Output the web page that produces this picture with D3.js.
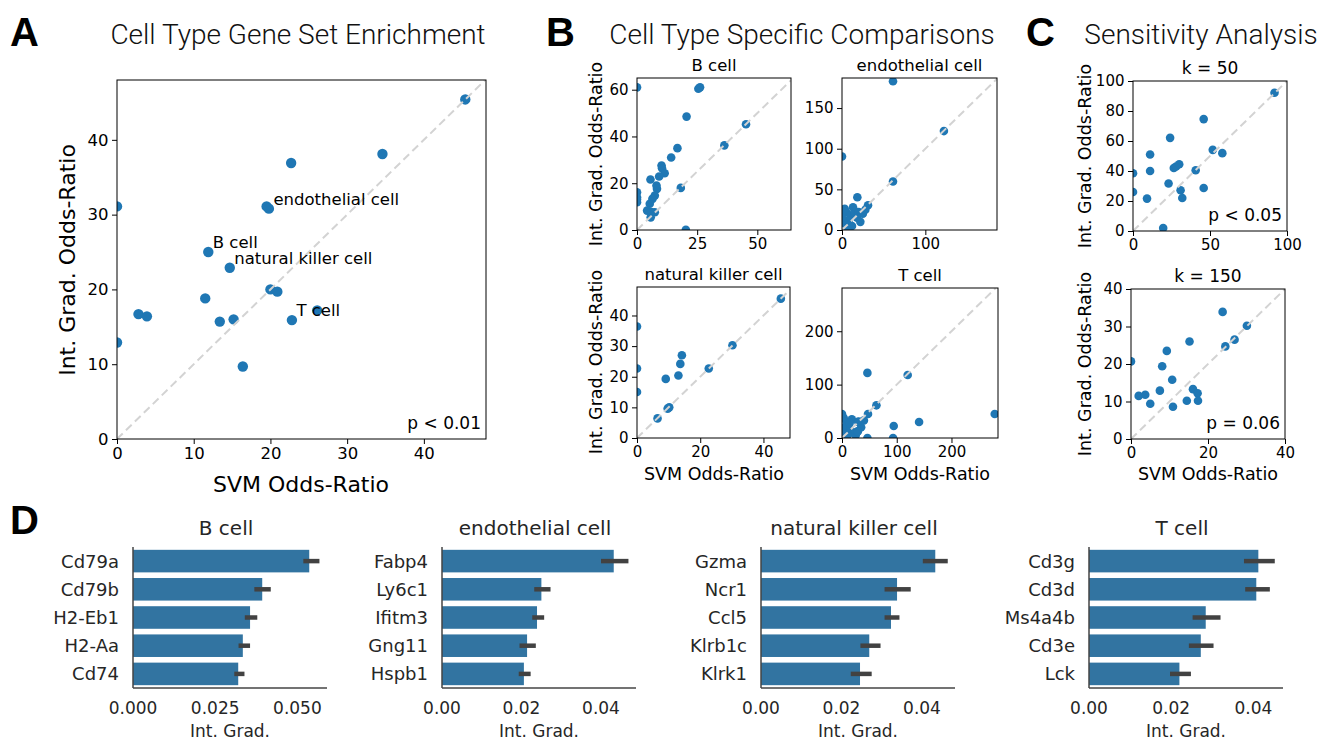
<!DOCTYPE html>
<html>
<head>
<meta charset="utf-8">
<script src="https://cdn.jsdelivr.net/npm/d3@7"></script>
<style>
body { margin: 0; background: #fff; }
text { font-family: "DejaVu Sans", sans-serif; }
</style>
</head>
<body>
<svg id="fig" width="1319" height="740"></svg>
<script>
// ---- A: cell type gene set enrichment
const enrichSvm = [45.4, 34.6, 22.7, 0, 19.5, 19.8, 11.9, 14.7, 11.5, 20.0, 20.9, 2.8, 3.9, 13.4, 15.2, 22.8, 26.1, 0, 16.4];
const enrichIG  = [45.4, 38.1, 36.9, 31.1, 31.1, 30.8, 25.0, 22.9, 18.8, 20.0, 19.7, 16.7, 16.4, 15.7, 16.0, 15.9, 17.2, 12.9, 9.7];
const annotNames = ["endothelial cell", "B cell", "natural killer cell", "T cell"];
const annotIdx = [5, 6, 7, 15];

// ---- B: cell type specific comparisons
const bSvm = [0, 25.5, 26.2, 20.6, 45.3, 36.3, 16.8, 14.2, 10.2, 10.4, 11.5, 9.2, 5.6, 8.1, 8.3, 18.2, 0, 0, 0, 0, 7.4, 6.4, 5.3, 4.2, 7.4, 5.7, 20.3, 6.0];
const bIG  = [61, 60.4, 61.0, 48.5, 45.2, 36.2, 35.0, 31.0, 27.6, 26.4, 24.3, 22.9, 21.6, 19.0, 17.6, 18.0, 16.1, 14.0, 11.9, 13.0, 14.7, 13.3, 11.2, 8.3, 7.6, 5.4, 0.1, 7.7];
const endoSvm = [61.2, 122.3, 0, 61.2, 18.4, 31.2, 13.2, 3.2, 0, 5, 10, 15, 20, 25, 8, 3, 12, 18, 22, 0, 6, 28];
const endoIG  = [183, 121.7, 90.5, 59.6, 40.3, 30.4, 28, 26, 25, 22, 18, 20, 22, 20, 12, 8, 5, 15, 10, 15, 3, 25];
const nkSvm = [45.5, 0, 0, 0, 30.2, 14.2, 13.7, 13.1, 9.1, 22.7, 10.2, 9.7, 6.5];
const nkIG  = [45.5, 36.4, 22.7, 15.0, 30.3, 27.0, 24.2, 20.4, 19.3, 22.7, 10.0, 9.6, 6.4];
const tSvm = [46.4, 120, 62.9, 47.5, 279, 140.8, 94.5, 93.3, 46.4, 0, 3, 8, 12, 5, 15, 20, 25, 10, 30, 35, 2, 18, 40, 28, 14, 30, 29];
const tIG  = [122, 118, 61.2, 45, 45, 30, 22.5, 0, 0, 45, 38, 30, 25, 20, 15, 10, 5, 5, 30, 20, 10, 35, 33, 12, 28, 31, 12.5];

// ---- C: sensitivity analysis
const k50Svm = [0, 0, 11.1, 11.1, 9.1, 24.1, 23.1, 26.5, 28, 30, 30.9, 32, 19.6, 40.7, 45.9, 45.9, 51.8, 58, 91.9];
const k50IG  = [38.5, 26, 51, 40, 21.6, 62.1, 31.7, 42, 43, 44.5, 27.2, 22, 2, 40.5, 74.6, 28.7, 54.1, 51.9, 92.2];
const k150Svm = [0, 2.0, 3.7, 5.0, 7.5, 8.1, 9.3, 10.7, 10.9, 14.5, 15.2, 16.1, 17.3, 17.4, 23.8, 24.5, 26.9, 30.1];
const k150IG  = [20.7, 11.5, 11.8, 9.4, 12.9, 19.4, 23.5, 15.8, 8.6, 10.2, 26, 13.3, 12.2, 10.2, 33.9, 24.7, 26.5, 30.2];

// ---- D: top genes, Int. Grad. mean with CI
const bGenes = ["Cd79a", "Cd79b", "H2-Eb1", "H2-Aa", "Cd74"];
const bMean = [0.0536, 0.0393, 0.0356, 0.0334, 0.0320];
const bLo   = [0.0518, 0.0369, 0.0340, 0.0321, 0.0308];
const bHi   = [0.0567, 0.0419, 0.0378, 0.0356, 0.0339];
const endoGenes = ["Fabp4", "Ly6c1", "Ifitm3", "Gng11", "Hspb1"];
const endoMean = [0.0432, 0.0250, 0.0239, 0.0214, 0.0206];
const endoLo   = [0.0400, 0.0232, 0.0227, 0.0195, 0.0193];
const endoHi   = [0.0469, 0.0273, 0.0257, 0.0236, 0.0223];
const nkGenes = ["Gzma", "Ncr1", "Ccl5", "Klrb1c", "Klrk1"];
const nkMean = [0.0433, 0.0338, 0.0323, 0.0269, 0.0246];
const nkLo   = [0.0402, 0.0307, 0.0307, 0.0247, 0.0223];
const nkHi   = [0.0464, 0.0372, 0.0344, 0.0297, 0.0275];
const tGenes = ["Cd3g", "Cd3d", "Ms4a4b", "Cd3e", "Lck"];
const tMean = [0.0412, 0.0407, 0.0284, 0.0272, 0.0220];
const tLo   = [0.0377, 0.0380, 0.0252, 0.0243, 0.0197];
const tHi   = [0.0452, 0.0440, 0.0320, 0.0303, 0.0248];

const svg = d3.select('#fig');
let clipN = 0;

function styleAxis(g, size){
    g.attr('font-family', '"DejaVu Sans", sans-serif').attr('font-size', size);
    g.select('.domain').remove();
    g.selectAll('.tick line').attr('stroke', '#000');
    g.selectAll('.tick text').attr('fill', '#000');
}

function scatter(o){
    const x = d3.scaleLinear().domain([0, o.xMax]).range([o.left, o.left + o.w]);
    const y = d3.scaleLinear().domain([0, o.yMax]).range([o.top + o.h, o.top]);
    const id = 'clip' + (clipN++);
    svg.append('clipPath').attr('id', id)
        .append('rect').attr('x', o.left).attr('y', o.top).attr('width', o.w).attr('height', o.h);
    const plot = svg.append('g').attr('clip-path', 'url(#' + id + ')');
    plot.selectAll('circle')
        .data(o.xs)
        .join('circle')
        .attr('cx', d => x(d))
        .attr('cy', (d, i) => y(o.ys[i]))
        .attr('r', o.r)
        .attr('fill', '#1f77b4');
    const m = Math.min(o.xMax, o.yMax);
    plot.append('line')
        .attr('x1', x(0)).attr('y1', y(0)).attr('x2', x(m)).attr('y2', y(m))
        .attr('stroke', '#d3d3d3').attr('stroke-width', 2).attr('stroke-dasharray', '8,4.5');

    const xa = svg.append('g').attr('transform', 'translate(0,' + (o.top + o.h) + ')')
        .call(d3.axisBottom(x).tickValues(o.xTicks).tickSize(5).tickPadding(3.5).tickFormat(d3.format('d')));
    styleAxis(xa, o.tick);
    const ya = svg.append('g').attr('transform', 'translate(' + o.left + ',0)')
        .call(d3.axisLeft(y).tickValues(o.yTicks).tickSize(5).tickPadding(3.5).tickFormat(d3.format('d')));
    styleAxis(ya, o.tick);
    svg.append('rect').attr('x', o.left).attr('y', o.top).attr('width', o.w).attr('height', o.h)
        .attr('fill', 'none').attr('stroke', '#000').attr('stroke-width', 1);

    if (o.title) {
        svg.append('text').attr('x', o.left + o.w / 2).attr('y', o.top - 7)
            .attr('text-anchor', 'middle').attr('font-size', o.titleSize).text(o.title);
    }
    if (o.p) {
        svg.append('text').attr('x', o.left + o.w - 5).attr('y', o.top + o.h - 10)
            .attr('text-anchor', 'end').attr('font-size', o.pSize).text(o.p);
    }
    return {x, y};
}

// panel letters + titles
const letters = [["A", 10, 46], ["B", 546, 46], ["C", 1026, 46], ["D", 10, 534]];
letters.forEach(l => {
    svg.append('text').attr('x', l[1]).attr('y', l[2])
        .style('font-family', '"Liberation Sans", Arial, sans-serif')
        .attr('font-weight', 'bold').attr('font-size', 40).text(l[0]);
});
const heads = [["Cell Type Gene Set Enrichment", 298], ["Cell Type Specific Comparisons", 802], ["Sensitivity Analysis", 1201]];
heads.forEach(h => {
    svg.append('text').attr('x', h[1]).attr('y', 44).attr('text-anchor', 'middle')
        .style('font-family', 'Roboto, "Open Sans", sans-serif')
        .attr('font-weight', 300).attr('font-size', 28).attr('fill', '#111').text(h[0]);
});

// A
const a = scatter({left: 117, top: 80, w: 369, h: 359, xMax: 48.1, yMax: 48,
    xTicks: [0, 10, 20, 30, 40], yTicks: [0, 10, 20, 30, 40], xs: enrichSvm, ys: enrichIG,
    r: 5.2, tick: 16.5, p: "p < 0.01", pSize: 17});
annotIdx.forEach((idx, k) => {
    svg.append('text').attr('x', a.x(enrichSvm[idx]) + 4.5).attr('y', a.y(enrichIG[idx]) - 4)
        .attr('font-size', 16.5).text(annotNames[k]);
});
svg.append('text').attr('transform', 'translate(75,260) rotate(-90)').attr('text-anchor', 'middle')
    .attr('font-size', 22).text('Int. Grad. Odds-Ratio');
svg.append('text').attr('x', 301).attr('y', 492).attr('text-anchor', 'middle')
    .attr('font-size', 22).text('SVM Odds-Ratio');

// B
scatter({left: 637, top: 78, w: 154, h: 152, xMax: 64, yMax: 65, xTicks: [0, 25, 50], yTicks: [0, 20, 40, 60],
    xs: bSvm, ys: bIG, r: 4.3, tick: 15, title: "B cell", titleSize: 16.5});
scatter({left: 842, top: 78, w: 155, h: 152, xMax: 186, yMax: 187, xTicks: [0, 100], yTicks: [0, 50, 100, 150],
    xs: endoSvm, ys: endoIG, r: 4.3, tick: 15, title: "endothelial cell", titleSize: 16.5});
scatter({left: 637, top: 287, w: 153, h: 151, xMax: 48.4, yMax: 49.3, xTicks: [0, 20, 40], yTicks: [0, 10, 20, 30, 40],
    xs: nkSvm, ys: nkIG, r: 4.3, tick: 15, title: "natural killer cell", titleSize: 16.5});
scatter({left: 842, top: 288, w: 156, h: 150, xMax: 285, yMax: 281, xTicks: [0, 100, 200], yTicks: [0, 100, 200],
    xs: tSvm, ys: tIG, r: 4.3, tick: 15, title: "T cell", titleSize: 16.5});
[154, 362].forEach(cy => {
    svg.append('text').attr('transform', 'translate(602,' + cy + ') rotate(-90)').attr('text-anchor', 'middle')
        .attr('font-size', 17.5).text('Int. Grad. Odds-Ratio');
});
[714, 920].forEach(cx => {
    svg.append('text').attr('x', cx).attr('y', 480).attr('text-anchor', 'middle')
        .attr('font-size', 17.5).text('SVM Odds-Ratio');
});

// C
scatter({left: 1133, top: 81, w: 154, h: 150, xMax: 100, yMax: 100, xTicks: [0, 50, 100], yTicks: [0, 20, 40, 60, 80, 100],
    xs: k50Svm, ys: k50IG, r: 4.3, tick: 15, title: "k = 50", titleSize: 17, p: "p < 0.05", pSize: 17});
scatter({left: 1131, top: 289, w: 154, h: 150, xMax: 40, yMax: 40, xTicks: [0, 20, 40], yTicks: [0, 10, 20, 30, 40],
    xs: k150Svm, ys: k150IG, r: 4.3, tick: 15, title: "k = 150", titleSize: 17, p: "p = 0.06", pSize: 17});
[156, 364].forEach(cy => {
    svg.append('text').attr('transform', 'translate(1091,' + cy + ') rotate(-90)').attr('text-anchor', 'middle')
        .attr('font-size', 17.5).text('Int. Grad. Odds-Ratio');
});
svg.append('text').attr('x', 1208).attr('y', 480).attr('text-anchor', 'middle')
    .attr('font-size', 17.5).text('SVM Odds-Ratio');

// D
function bars(o){
    const x = d3.scaleLinear().domain([0, o.xMax]).range([o.left, o.left + 194]);
    const y = d3.scaleBand().domain(o.genes).range([547, 688]).paddingInner(0.2).paddingOuter(0.1);
    const g = svg.append('g');
    g.selectAll('rect.bar')
        .data(o.genes)
        .join('rect')
        .attr('class', 'bar')
        .attr('x', x(0))
        .attr('y', d => y(d))
        .attr('width', (d, i) => x(o.mean[i]) - x(0))
        .attr('height', y.bandwidth())
        .attr('fill', '#3274a1');
    g.selectAll('line.err')
        .data(o.genes)
        .join('line')
        .attr('class', 'err')
        .attr('x1', (d, i) => x(o.lo[i]))
        .attr('x2', (d, i) => x(o.hi[i]))
        .attr('y1', d => y(d) + y.bandwidth() / 2)
        .attr('y2', d => y(d) + y.bandwidth() / 2)
        .attr('stroke', '#424242').attr('stroke-width', 4.5);
    g.append('line').attr('x1', o.left).attr('x2', o.left).attr('y1', 547).attr('y2', 688)
        .attr('stroke', '#444').attr('stroke-width', 1.5);
    g.append('line').attr('x1', o.left).attr('x2', o.left + 194).attr('y1', 688).attr('y2', 688)
        .attr('stroke', '#444').attr('stroke-width', 1.5);
    g.selectAll('text.gene')
        .data(o.genes)
        .join('text')
        .attr('class', 'gene')
        .attr('x', o.left - 14)
        .attr('y', d => y(d) + y.bandwidth() / 2 + 6.5)
        .attr('text-anchor', 'end').attr('font-size', 18).attr('fill', '#262626')
        .text(d => d);
    g.selectAll('text.tk')
        .data(o.ticks)
        .join('text')
        .attr('class', 'tk')
        .attr('x', d => x(d)).attr('y', 714)
        .attr('text-anchor', 'middle').attr('font-size', 17).attr('fill', '#262626')
        .text(d => d3.format(o.fmt)(d));
    g.append('text').attr('x', o.left + 97).attr('y', 737).attr('text-anchor', 'middle')
        .attr('font-size', 17).attr('fill', '#262626').text('Int. Grad.');
    g.append('text').attr('x', o.left + 93).attr('y', 535).attr('text-anchor', 'middle')
        .attr('font-size', 20).attr('fill', '#262626').text(o.title);
}
bars({left: 133, xMax: 0.059, genes: bGenes, mean: bMean, lo: bLo, hi: bHi, ticks: [0, 0.025, 0.05], fmt: '.3f', title: 'B cell'});
bars({left: 442, xMax: 0.0488, genes: endoGenes, mean: endoMean, lo: endoLo, hi: endoHi, ticks: [0, 0.02, 0.04], fmt: '.2f', title: 'endothelial cell'});
bars({left: 761, xMax: 0.0482, genes: nkGenes, mean: nkMean, lo: nkLo, hi: nkHi, ticks: [0, 0.02, 0.04], fmt: '.2f', title: 'natural killer cell'});
bars({left: 1089, xMax: 0.0472, genes: tGenes, mean: tMean, lo: tLo, hi: tHi, ticks: [0, 0.02, 0.04], fmt: '.2f', title: 'T cell'});
</script>
</body>
</html>
